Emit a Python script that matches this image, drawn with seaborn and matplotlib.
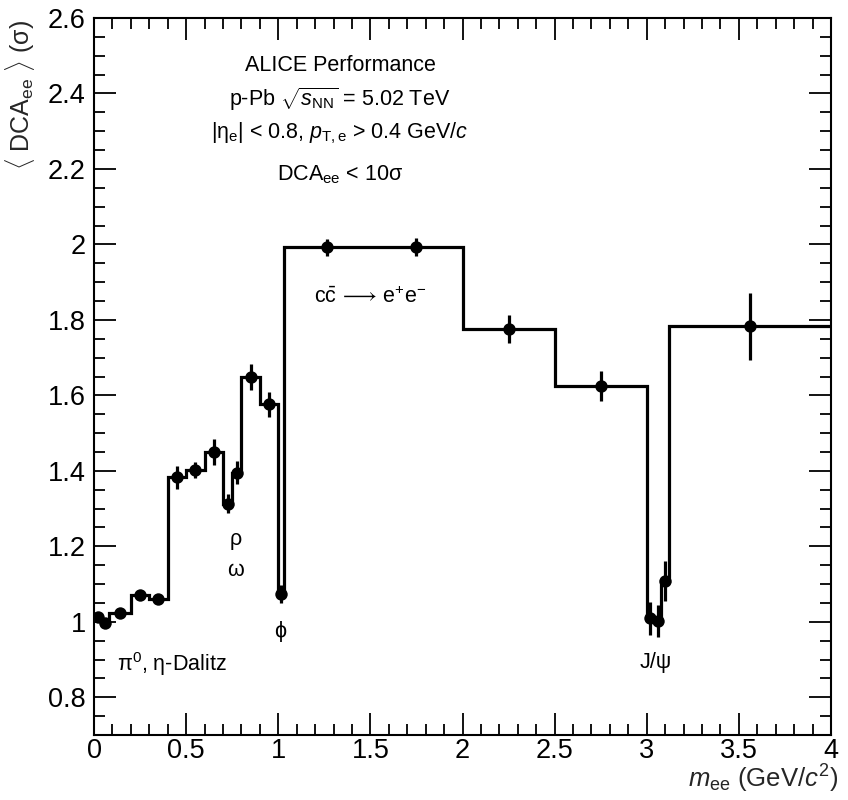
import numpy as np
import pandas as pd
import matplotlib
matplotlib.use("Agg")
import matplotlib.pyplot as plt
from matplotlib.ticker import MultipleLocator
import seaborn as sns

# ---- data ----
bin_edges = [0.0, 0.04, 0.08, 0.2, 0.3, 0.4, 0.5, 0.6, 0.7, 0.75, 0.8, 0.9, 1.0, 1.03,
             1.5, 2.0, 2.5, 3.0, 3.04, 3.08, 3.12, 4.0]
dca_mean = [1.012, 0.998, 1.022, 1.072, 1.060, 1.383, 1.402, 1.450, 1.313, 1.395, 1.648,
            1.577, 1.073, 1.992, 1.992, 1.776, 1.624, 1.009, 1.002, 1.108, 1.783]
dca_err = [0.008, 0.008, 0.008, 0.013, 0.013, 0.030, 0.022, 0.035, 0.026, 0.030, 0.034,
           0.033, 0.024, 0.022, 0.024, 0.036, 0.040, 0.043, 0.043, 0.054, 0.088]
x_ticks = [0, 0.5, 1, 1.5, 2, 2.5, 3, 3.5, 4]
x_tick_labels = ["0", "0.5", "1", "1.5", "2", "2.5", "3", "3.5", "4"]
y_ticks = [0.8, 1.0, 1.2, 1.4, 1.6, 1.8, 2.0, 2.2, 2.4, 2.6]
y_tick_labels = ["0.8", "1", "1.2", "1.4", "1.6", "1.8", "2", "2.2", "2.4", "2.6"]

edges = np.array(bin_edges)
centers = 0.5 * (edges[:-1] + edges[1:])
df = pd.DataFrame({"mee": centers, "dca": dca_mean, "err": dca_err})

sns.set_theme(style="ticks")
plt.rcParams["font.family"] = ["Liberation Sans", "DejaVu Sans"]
plt.rcParams["mathtext.fontset"] = "custom"
plt.rcParams["mathtext.rm"] = "Liberation Sans"
plt.rcParams["mathtext.it"] = "Liberation Sans:italic"
plt.rcParams["mathtext.bf"] = "Liberation Sans:bold"

fig = plt.figure(figsize=(8.48, 8.0), dpi=100)
ax = fig.add_axes([94 / 848, 1 - 735 / 800, (831 - 94) / 848, (735 - 18) / 800])

ax.stairs(df["dca"].values, edges, color="black", linewidth=2.3, baseline=None)
ax.errorbar(df["mee"], df["dca"], yerr=df["err"], fmt="none", ecolor="black",
            elinewidth=2.3, capsize=0)
sns.scatterplot(data=df, x="mee", y="dca", ax=ax, color="black", s=80,
                edgecolor="black", linewidth=0, zorder=5, legend=False)

ax.set_xlim(0, 4)
ax.set_ylim(0.7, 2.6)
ax.set_xticks(x_ticks)
ax.set_xticklabels(x_tick_labels)
ax.set_yticks(y_ticks)
ax.set_yticklabels(y_tick_labels)
ax.xaxis.set_minor_locator(MultipleLocator(0.1))
ax.yaxis.set_minor_locator(MultipleLocator(0.05))
ax.tick_params(which="both", direction="in", top=True, right=True, width=1.3,
               colors="black", labelsize=19.5)
ax.tick_params(which="major", length=16)
ax.tick_params(which="minor", length=8)
ax.tick_params(axis="x", pad=2)
ax.tick_params(axis="y", pad=6)
for sp in ax.spines.values():
    sp.set_linewidth(1.5)
    sp.set_color("black")

ax.set_xlabel(r"$m_{\rm ee}$ (GeV/$c^{2}$)", fontsize=18.5, loc="right")
ax.xaxis.set_label_coords((838 - 94) / 737, -(763 - 735) / 717)
ax.set_ylabel(r"$\langle$ DCA$_{\rm ee}$ $\rangle$ (σ)", fontsize=18, loc="top")
ax.yaxis.set_label_coords(-(94 - 37) / 737, 0.998)

txt = dict(transform=ax.transData, ha="center", va="center", fontsize=15.5, color="black")
ax.text(1.34, 2.475, "ALICE Performance", **txt)
ax.text(1.335, 2.385, r"p-Pb $\sqrt{s_{\rm NN}}$ = 5.02 TeV", **txt)
ax.text(1.335, 2.295, r"|η$_{\rm e}$| < 0.8, $p_{\rm T,e}$ > 0.4 GeV/$c$", **txt)
ax.text(1.335, 2.186, r"DCA$_{\rm ee}$ < 10σ", **txt)
ax.text(1.50, 1.86, r"c$\bar{\rm c}\,\longrightarrow\,$e$^{+}$e$^{-}$", **txt)
ax.text(0.77, 1.217, "ρ", **txt)
ax.text(0.77, 1.137, "ω", **txt)
ax.text(1.01, 0.973, "ϕ", **txt)
ax.text(0.423, 0.888, r"π$^{0}$, η-Dalitz", **txt)
ax.text(3.05, 0.893, "J/ψ", **txt)

fig.savefig("out.png", dpi=100, facecolor="white")
